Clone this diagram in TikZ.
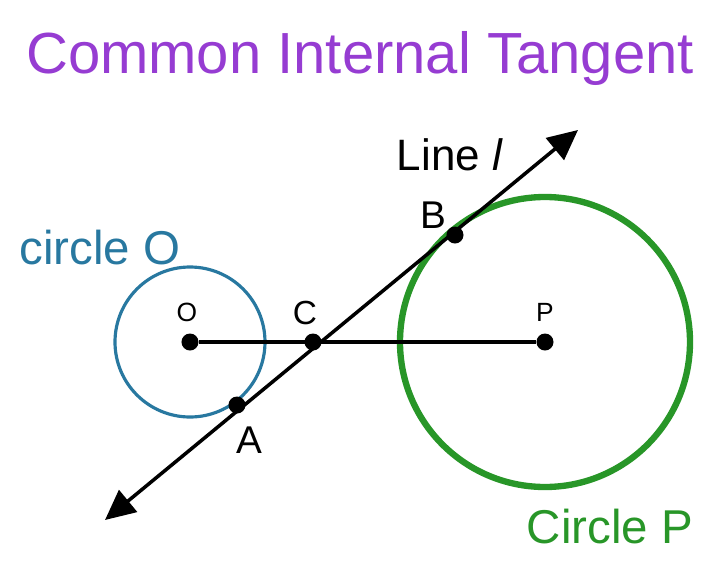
\documentclass[tikz,border=0pt]{standalone}
\usepackage{fontspec}
\setmainfont{Liberation Sans}
\usetikzlibrary{arrows.meta}
\definecolor{titlepurple}{RGB}{150,60,210}
\definecolor{circblue}{RGB}{40,120,160}
\definecolor{circgreen}{RGB}{40,150,40}
\begin{document}
\begin{tikzpicture}[x=0.01cm,y=-0.01cm]
\tikzstyle{dot}=[circle,fill=black,inner sep=0pt,minimum size=0.17cm]
\tikzstyle{lbl}=[font=\fontsize{7.5}{8}\selectfont]
\tikzstyle{big}=[font=\fontsize{13.5}{15}\selectfont]
\useasboundingbox (0,0) rectangle (720,581);
\node[text=titlepurple,font=\fontsize{16.5}{18}\selectfont] (title) at (360,58) {Common Internal Tangent};
\draw [circblue,line width=0.9pt] (190,342) circle (75);
\draw [circgreen,line width=1.8pt] (545,342) circle (145);
\node[dot] (o) at (190,342) {};
\node[dot] (c) at (313,342) {};
\node[dot] (p) at (545,342) {};
\node[dot] (a) at (237,405) {};
\node[dot] (b) at (455,235) {};
\coordinate (lend) at (105,520);
\coordinate (rend) at (578,130);
\draw [line width=1pt] (o) -- (p);
\draw [line width=1pt,{Triangle[length=0.3cm,width=0.28cm]}-{Triangle[length=0.3cm,width=0.28cm]}] (lend) -- (rend);
\node[lbl] (olbl) at (187,312) {O};
\node[font=\fontsize{9.5}{10}\selectfont] (clbl) at (305,313) {C};
\node[lbl] (plbl) at (545,312) {P};
\node[font=\fontsize{11}{12}\selectfont] (albl) at (249,440) {A};
\node[font=\fontsize{11}{12}\selectfont] (blbl) at (433,215) {B};
\node[font=\fontsize{12.5}{14}\selectfont] (line) at (450,155) {Line \textit{l}};
\node[big,text=circblue] (cO) at (100,248) {circle O};
\node[big,text=circgreen] (cP) at (610,527) {Circle P};
\end{tikzpicture}
\end{document}
